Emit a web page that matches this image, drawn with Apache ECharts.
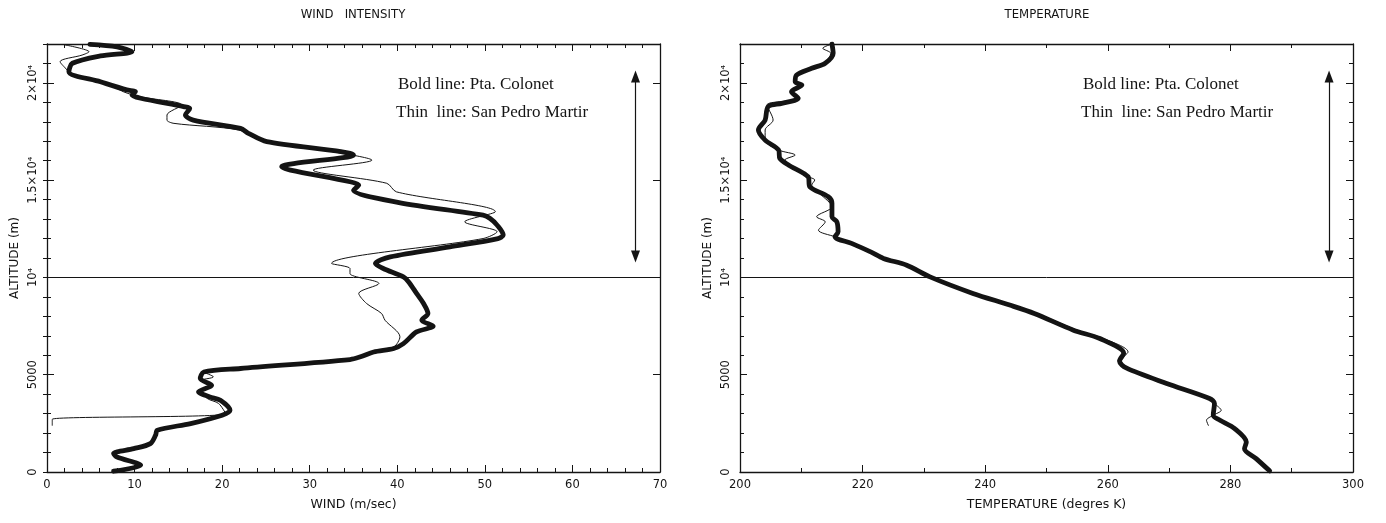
<!DOCTYPE html>
<html><head><meta charset="utf-8">
<script src="https://cdn.jsdelivr.net/npm/echarts@6/dist/echarts.min.js"></script>
<style>html,body{margin:0;padding:0;background:#fff}#c{width:1386px;height:523px}</style>
</head><body><div id="c"></div><script>
// ---- Wind intensity: bold = Pta. Colonet, thin = San Pedro Martir ----
const windBoldVal = [4.9,8.0,9.7,6.1,2.9,2.5,6.1,9.1,10.1,9.7,10.7,15.6,16.3,15.8,16.7,22.1,23.0,25.1,35.0,26.8,27.8,34.6,35.6,35.0,40.2,49.8,50.6,51.4,52.1,51.5,46.0,39.2,37.5,38.4,40.7,41.3,42.2,43.0,43.5,42.8,44.1,42.2,40.7,39.6,37.3,35.8,34.6,22.1,17.9,17.5,18.8,17.3,18.6,19.8,20.9,20.0,16.4,12.6,12.4,11.8,9.9,7.6,8.0,10.7,7.6];
const windBoldAlt = [21980,21850,21600,21390,21010,20580,20060,19640,19550,19380,19210,18780,18690,18350,18090,17660,17410,16980,16290,15690,15520,14920,14750,14490,13850,13200,13030,12690,12180,12000,11570,11060,10720,10460,10030,9770,9180,8660,8150,7800,7500,7200,6600,6350,6170,5920,5780,5320,5140,4800,4460,4120,3860,3690,3170,2920,2490,2150,1890,1460,1200,950,770,350,40];
const windThinVal = [2.1,4.8,4.0,1.5,2.3,2.7,6.9,8.7,10.6,15.4,13.7,13.7,14.5,21.9,24.3,33.5,37.1,30.4,38.8,39.9,51.2,47.7,51.4,49.8,32.5,34.6,34.6,37.9,35.6,36.5,38.2,38.6,40.3,39.6,37.3,35.8,34.6,22.1,17.9,19.0,17.5,18.8,17.6,18.3,19.6,20.4,0.6,0.6];
const windThinAlt = [21950,21600,21430,21090,20660,20410,19980,19550,19290,18860,18350,18090,17920,17580,17060,16400,16030,15520,14840,14400,13380,12860,12350,12000,10720,10460,10200,9690,9180,8660,8150,7800,6950,6430,6170,5920,5780,5320,5140,4890,4700,4460,4200,3780,3520,3000,2710,2400];
// ---- Temperature ----
const tempBoldVal = [215.0,215.2,213.9,211.7,209.2,209.0,210.1,208.4,209.5,206.8,204.6,204.1,203.0,204.1,206.3,206.5,207.9,211.1,211.4,214.4,215.0,215.0,215.8,216.0,215.5,218.2,221.4,223.4,227.2,231.0,238.0,244.0,248.0,254.4,258.7,262.6,261.9,263.0,269.6,276.6,277.4,277.2,278.3,280.7,282.6,282.3,284.2,286.4];
const tempBoldAlt = [22000,21520,21010,20750,20400,20060,19890,19550,19210,18950,18780,18090,17580,17060,16550,16120,15780,15180,14660,14150,13810,13120,12860,12350,12090,11750,11300,10980,10630,10030,9180,8580,8150,7290,6860,6100,5700,5350,4550,3780,3520,2920,2660,2230,1540,1200,690,60];
const tempThinVal = [215.0,213.5,214.8,213.9,211.7,209.2,209.0,210.1,208.4,209.3,208.7,204.4,205.4,204.1,204.1,206.3,209.0,207.3,207.9,211.1,212.2,211.7,213.0,215.0,212.5,213.9,212.8,215.5,218.2,221.4,223.4,227.2,231.0,238.0,244.0,248.4,255.0,259.3,263.3,262.2,263.0,269.6,276.6,277.4,278.5,277.2,276.1,276.4];
const tempThinAlt = [22000,21780,21520,21010,20750,20400,20060,19890,19550,19300,19120,18860,18090,17580,17060,16550,16290,16030,15780,15180,15010,14750,14320,13630,13120,12860,12430,12090,11750,11300,10980,10630,10030,9180,8580,8150,7290,6860,6170,5750,5350,4550,3780,3520,3170,2920,2660,2400];
// ---- axes / annotations ----
const windTicks = [0, 70, 10];
const tempTicks = [200, 300, 20];
const altTicks = [0, 22000, 5000];
const refAltitude = 10000;
const windArrow = [67.2, 20330, 11080];
const tempArrow = [296.1, 20330, 11080];
const titles = ['WIND   INTENSITY', 'TEMPERATURE'];
const xNames = ['WIND (m/sec)', 'TEMPERATURE (degres K)'];
const yName = 'ALTITUDE (m)';
const legendLines = ['Bold line: Pta. Colonet', 'Thin  line: San Pedro Martir'];

const zip = (v, a) => v.map((x, i) => [x, a[i]]);
const C = '#141414';
const FONT = '"DejaVu Sans", sans-serif';
const NARROW = '"Liberation Sans Narrow", "DejaVu Sans Condensed", "Liberation Sans", sans-serif';

function altLabel(v) {
  if (v === 0) return '0';
  if (v === 5000) return '5000';
  if (v === 10000) return '10\u2074';
  if (v === 15000) return '1.5\u00d710\u2074';
  if (v === 20000) return '2\u00d710\u2074';
  return '';
}

function xAxes(grid, t, minorSplit, name) {
  const base = {
    type: 'value', gridIndex: grid, min: t[0], max: t[1], interval: t[2],
    splitLine: { show: false },
    axisLine: { show: true, onZero: false, lineStyle: { color: C, width: 1.3 } },
    axisTick: { show: true, inside: true, length: 7, lineStyle: { color: C, width: 1 } },
    minorTick: { show: true, splitNumber: minorSplit, length: 4, lineStyle: { color: C, width: 1 } }
  };
  return [
    Object.assign({}, base, {
      position: 'bottom', name: name, nameLocation: 'middle', nameGap: 26,
      nameTextStyle: { fontFamily: FONT, fontSize: 12.5, color: C },
      axisLabel: { show: true, margin: 7, fontFamily: FONT, fontSize: 11.5, color: C,
        showMinLabel: true, showMaxLabel: true }
    }),
    Object.assign({}, base, { position: 'top', axisLabel: { show: false } })
  ];
}

function yAxes(grid, showName) {
  const common = {
    type: 'value', gridIndex: grid, min: altTicks[0], max: altTicks[1],
    splitLine: { show: false }
  };
  const tick = (len) => ({ show: true, inside: true, length: len, lineStyle: { color: C, width: 1 } });
  return [
    Object.assign({}, common, {
      position: 'left', interval: altTicks[2],
      axisLine: { show: true, onZero: false, lineStyle: { color: C, width: 1.3 } },
      axisTick: tick(7),
      name: showName ? yName : '', nameLocation: 'middle', nameGap: 26,
      nameTextStyle: { fontFamily: FONT, fontSize: 12, color: C },
      axisLabel: { show: true, rotate: 90, margin: 8, fontFamily: FONT, fontSize: 11.5, color: C,
        formatter: altLabel, showMaxLabel: true }
    }),
    Object.assign({}, common, {
      position: 'left', interval: 1000,
      axisLine: { show: false }, axisTick: tick(4), axisLabel: { show: false }
    }),
    Object.assign({}, common, {
      position: 'right', interval: altTicks[2],
      axisLine: { show: true, onZero: false, lineStyle: { color: C, width: 1.3 } },
      axisTick: tick(7), axisLabel: { show: false }
    }),
    Object.assign({}, common, {
      position: 'right', interval: 1000,
      axisLine: { show: false }, axisTick: tick(4), axisLabel: { show: false }
    })
  ];
}

function hLine() {
  return { silent: true, symbol: ['none', 'none'], label: { show: false },
    lineStyle: { color: C, width: 1, type: 'solid' },
    data: [{ yAxis: refAltitude }] };
}
function arrow(a) {
  return { silent: true, symbol: ['triangle', 'triangle'], symbolSize: [9, 12],
    label: { show: false },
    lineStyle: { color: C, width: 1.2, type: 'solid' },
    itemStyle: { color: C },
    data: [[{ coord: [a[0], a[1]] }, { coord: [a[0], a[2]] }]] };
}

function lineSeries(xi, yi, data, w, extra) {
  return Object.assign({
    type: 'line', xAxisIndex: xi, yAxisIndex: yi, data: data,
    showSymbol: false, symbol: 'none', smooth: 0.3, clip: true,
    lineStyle: { color: C, width: w, cap: 'round', join: 'round' },
    emphasis: { disabled: true }
  }, extra || {});
}

const chart = echarts.init(document.getElementById('c'), null, { renderer: 'canvas' });
const txt = (x, y, s, font, align) => ({
  type: 'text', x: x, y: y,
  style: { text: s, font: font, fill: C, textAlign: align, align: align,
    textVerticalAlign: 'middle', verticalAlign: 'middle' }
});
chart.setOption({
  animation: false,
  backgroundColor: '#fff',
  grid: [
    { left: 47, top: 44, width: 613, height: 428 },
    { left: 740, top: 44, width: 613, height: 428 }
  ],
  xAxis: [].concat(xAxes(0, windTicks, 5, xNames[0]), xAxes(1, tempTicks, 2, xNames[1])),
  yAxis: [].concat(yAxes(0, true), yAxes(1, true)),
  series: [
    lineSeries(0, 0, zip(windBoldVal, windBoldAlt), 4.8, { markLine: hLine() }),
    lineSeries(0, 0, zip(windThinVal, windThinAlt), 1, { markLine: arrow(windArrow) }),
    lineSeries(2, 4, zip(tempBoldVal, tempBoldAlt), 4.8, { markLine: hLine() }),
    lineSeries(2, 4, zip(tempThinVal, tempThinAlt), 1, { markLine: arrow(tempArrow) })
  ],
  graphic: [
    txt(353, 15, titles[0], '13px ' + NARROW, 'center'),
    txt(1047, 15, titles[1], '13px ' + NARROW, 'center'),
    txt(398, 85, legendLines[0], '17px "Liberation Serif", serif', 'left'),
    txt(396, 113, legendLines[1], '17px "Liberation Serif", serif', 'left'),
    txt(1083, 85, legendLines[0], '17px "Liberation Serif", serif', 'left'),
    txt(1081, 113, legendLines[1], '17px "Liberation Serif", serif', 'left')
  ]
});
</script></body></html>
